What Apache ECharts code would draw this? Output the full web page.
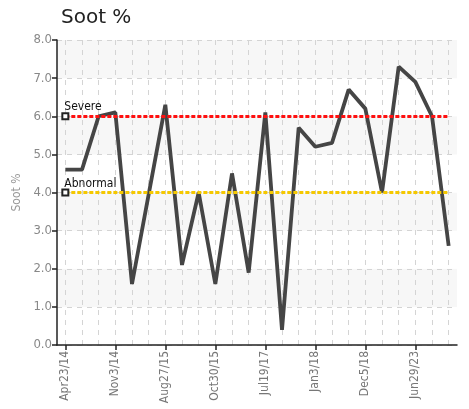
<!DOCTYPE html>
<html>
<head>
<meta charset="utf-8">
<script src="https://cdn.jsdelivr.net/npm/echarts@6/dist/echarts.min.js"></script>
<style>html,body{margin:0;padding:0;background:#fff;}#c{width:469px;height:409px;}</style>
</head>
<body>
<div id="c"></div>
<script>
var categories = ['Apr23/14','Jun10/14','Aug20/14','Nov3/14','Jan15/15','Apr2/15','Aug27/15','Sep14/15','Oct2/15','Oct30/15','Jan8/16','Jun21/16','Jul19/17','Sep25/17','Nov20/17','Jan3/18','Apr16/18','Aug9/18','Dec5/18','Mar22/19','Jan14/21','Jun29/23','Sep18/23','Dec4/23'];
var sootValues = [4.6, 4.6, 6.0, 6.1, 1.6, 3.95, 6.3, 2.1, 4.0, 1.6, 4.5, 1.9, 6.1, 0.4, 5.7, 5.2, 5.3, 6.7, 6.2, 4.0, 7.3, 6.9, 6.0, 2.6];
var yTicks = [0, 1, 2, 3, 4, 5, 6, 7, 8];
var severeLevel = 6.0;
var abnormalLevel = 4.0;

var font = "'Liberation Sans Narrow','DejaVu Sans Condensed','Roboto',sans-serif";
var labelFont = "'DejaVu Sans Condensed',sans-serif";
var chart = echarts.init(document.getElementById('c'), null, {renderer: 'canvas'});
chart.setOption({
  animation: false,
  title: {
    text: 'Soot %', left: 56, top: 3,
    textStyle: {fontFamily: "'DejaVu Sans',sans-serif", fontSize: 20, fontWeight: 'normal', color: '#222'}
  },
  grid: {left: 57, right: 12, top: 40, bottom: 64, containLabel: false},
  xAxis: {
    type: 'category',
    data: categories,
    boundaryGap: true,
    axisLine: {lineStyle: {color: '#222', width: 1.5}},
    axisTick: {show: true, alignWithLabel: true, interval: 2, length: 5, lineStyle: {color: '#222', width: 1.5}},
    axisLabel: {interval: 2, rotate: 90, color: '#777', fontFamily: font, fontSize: 12, margin: 6},
    splitLine: {show: true, interval: 0, alignWithLabel: true, lineStyle: {color: '#d4d4d4', type: [5, 5], width: 1}}
  },
  yAxis: {
    type: 'value',
    min: yTicks[0], max: yTicks[yTicks.length - 1], interval: 1,
    name: 'Soot %', nameLocation: 'middle', nameGap: 26,
    nameTextStyle: {color: '#999', fontFamily: font, fontSize: 12},
    axisLine: {show: true, lineStyle: {color: '#222', width: 1.5}},
    axisTick: {show: true, length: 5, lineStyle: {color: '#222', width: 1.5}},
    axisLabel: {color: '#888', fontFamily: font, fontSize: 13, margin: 5, formatter: function (v) { return v.toFixed(1); }},
    splitLine: {show: true, lineStyle: {color: '#d4d4d4', type: [5, 5], width: 1}},
    splitArea: {show: true, areaStyle: {color: ['#ffffff', '#f7f7f7']}}
  },
  series: [{
    type: 'line',
    data: sootValues,
    showSymbol: false,
    symbol: 'none',
    lineStyle: {color: '#454545', width: 3.8},
    z: 3,
    markLine: {
      silent: true,
      symbol: ['none', 'none'],
      animation: false,
      data: [
        [{coord: [0, severeLevel], lineStyle: {color: '#ff1010', type: [4, 2], width: 3},
          label: {show: true, formatter: 'Severe', position: 'insideStartTop', distance: [-1, 3], color: '#111', fontFamily: labelFont, fontSize: 12}},
         {coord: [categories.length - 1, severeLevel]}],
        [{coord: [0, abnormalLevel], lineStyle: {color: '#f5c800', type: [4, 2], width: 3},
          label: {show: true, formatter: 'Abnormal', position: 'insideStartTop', distance: [-1, 3], color: '#111', fontFamily: labelFont, fontSize: 12}},
         {coord: [categories.length - 1, abnormalLevel]}]
      ]
    },
    markPoint: {
      silent: true,
      symbol: 'emptyRect',
      symbolSize: 6,
      label: {show: false},
      itemStyle: {color: '#222', borderWidth: 1.2},
      data: [
        {coord: [0, severeLevel]},
        {coord: [0, abnormalLevel]}
      ]
    }
  }]
});
</script>
</body>
</html>
